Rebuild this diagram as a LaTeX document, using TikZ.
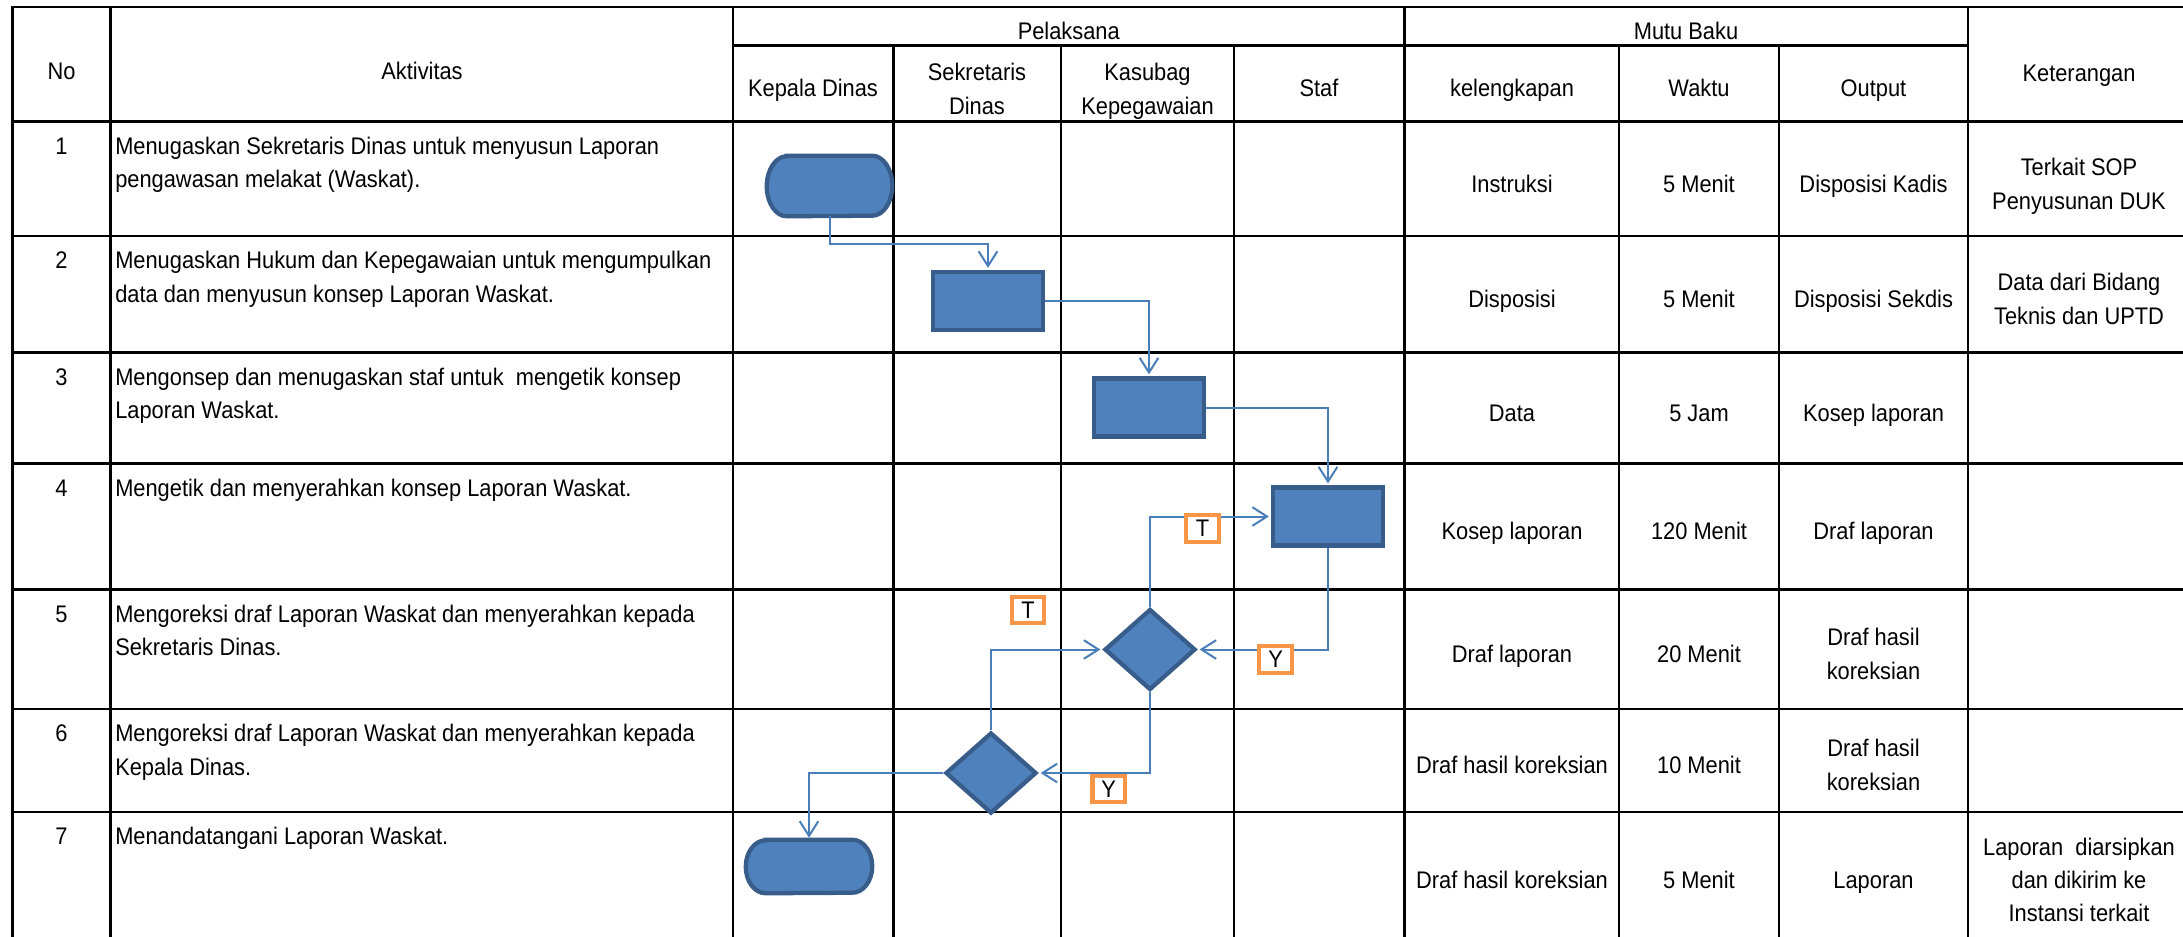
\documentclass[tikz,border=0pt]{standalone}
\usepackage{fontspec}
\setmainfont[FakeStretch=0.91]{Liberation Sans}
\usetikzlibrary{arrows.meta,shapes.geometric}
\definecolor{fillblue}{HTML}{4F81BD}
\definecolor{edgeblue}{HTML}{385D8A}
\definecolor{connblue}{HTML}{4A7EBB}
\definecolor{lblorange}{HTML}{F79646}
\newcommand\mystrut{\rule[-5.1pt]{0pt}{23.1pt}}
\newcommand\termshape[3]{%
  \path[termfill] ([xshift=#2]#1.north west) -- ([xshift=-#2]#1.north east)
    arc[start angle=90,end angle=-90,x radius=#2,y radius=#3]
    -- ([xshift=#2]#1.south west)
    arc[start angle=270,end angle=90,x radius=#2,y radius=#3] -- cycle;}
\begin{document}
\begin{tikzpicture}[x=0.75pt,y=-0.75pt,
  grid/.style={line width=1.6pt,black,line cap=rect},
  txt/.style={inner sep=0pt,font=\fontsize{18pt}{25pt}\selectfont,align=center},
  numtxt/.style={inner sep=0pt,font=\fontsize{18pt}{25pt}\selectfont,align=center,anchor=north},
  lefttxt/.style={inner sep=0pt,font=\fontsize{18pt}{25pt}\selectfont,align=left,anchor=north west},
  procbox/.style={rectangle,draw=edgeblue,fill=fillblue,line width=3.2pt,minimum width=82.5pt,minimum height=43.5pt,inner sep=0pt},
  decision/.style={diamond,draw=edgeblue,fill=fillblue,line width=3.2pt,minimum width=68.25pt,minimum height=60.75pt,inner sep=0pt},
  termnode/.style={rectangle,inner sep=0pt},
  termfill/.style={draw=edgeblue,fill=fillblue,line width=3.2pt},
  conn/.style={draw=connblue,line width=1.5pt,shorten >=1.5pt,-{Straight Barb[length=11pt,width=14pt]}},
  tag/.style={rectangle,draw=lblorange,fill=white,line width=3.2pt,minimum width=24.5pt,minimum height=20pt,inner sep=0pt,font=\fontsize{18pt}{25pt}\selectfont}
]
\useasboundingbox (0,0) rectangle (2183,936);

% grid
\draw[grid] (12.5,7) -- (2183,7);
\draw[grid] (733,45.5) -- (1968,45.5);
\foreach \y in {121.5,236,352.5,463.5,589.5,709,812} \draw[grid] (12.5,\y) -- (2183,\y);
\foreach \x in {12.5,110.5,733,1404.5,1968} \draw[grid] (\x,7) -- (\x,936);
\foreach \x in {893.5,1061,1234,1619,1779} \draw[grid] (\x,45.5) -- (\x,936);

% header
\node[txt] (hNo) at (61.5,71) {\mystrut No};
\node[txt] (hAkt) at (422,71) {\mystrut Aktivitas};
\node[txt] (hPel) at (1068.75,31) {\mystrut Pelaksana};
\node[txt] (hMutu) at (1686,31) {\mystrut Mutu Baku};
\node[txt] (hKet) at (2079,73) {\mystrut Keterangan};
\node[txt] (hKD) at (813,88) {\mystrut Kepala Dinas};
\node[txt] (hSD) at (977,89) {\mystrut Sekretaris\\\mystrut Dinas};
\node[txt] (hKK) at (1147.5,89) {\mystrut Kasubag\\\mystrut Kepegawaian};
\node[txt] (hStaf) at (1319,88) {\mystrut Staf};
\node[txt] (hKel) at (1512,88) {\mystrut kelengkapan};
\node[txt] (hWak) at (1699,88) {\mystrut Waktu};
\node[txt] (hOut) at (1873.5,88) {\mystrut Output};

% numbers
\node[numtxt] (n1) at (61.5,130) {\mystrut 1};
\node[numtxt] (n2) at (61.5,244.6) {\mystrut 2};
\node[numtxt] (n3) at (61.5,361) {\mystrut 3};
\node[numtxt] (n4) at (61.5,472) {\mystrut 4};
\node[numtxt] (n5) at (61.5,598) {\mystrut 5};
\node[numtxt] (n6) at (61.5,717.6) {\mystrut 6};
\node[numtxt] (n7) at (61.5,820.6) {\mystrut 7};

% activities
\node[lefttxt] (a1) at (115,130) {\mystrut Menugaskan Sekretaris Dinas untuk menyusun Laporan\\\mystrut pengawasan melakat (Waskat).};
\node[lefttxt] (a2) at (115,244.6) {\mystrut Menugaskan Hukum dan Kepegawaian untuk mengumpulkan\\\mystrut data dan menyusun konsep Laporan Waskat.};
\node[lefttxt] (a3) at (115,361) {\mystrut Mengonsep dan menugaskan staf untuk~ mengetik konsep\\\mystrut Laporan Waskat.};
\node[lefttxt] (a4) at (115,472) {\mystrut Mengetik dan menyerahkan konsep Laporan Waskat.};
\node[lefttxt] (a5) at (115,598) {\mystrut Mengoreksi draf Laporan Waskat dan menyerahkan kepada\\\mystrut Sekretaris Dinas.};
\node[lefttxt] (a6) at (115,717.6) {\mystrut Mengoreksi draf Laporan Waskat dan menyerahkan kepada\\\mystrut Kepala Dinas.};
\node[lefttxt] (a7) at (115,820.6) {\mystrut Menandatangani Laporan Waskat.};

% mutu baku
\node[txt] (k1) at (1512,184) {\mystrut Instruksi};
\node[txt] (w1) at (1699,184) {\mystrut 5 Menit};
\node[txt] (o1) at (1873.5,184) {\mystrut Disposisi Kadis};
\node[txt] (e1) at (2079,184) {\mystrut Terkait SOP\\\mystrut Penyusunan DUK};

\node[txt] (k2) at (1512,299) {\mystrut Disposisi};
\node[txt] (w2) at (1699,299) {\mystrut 5 Menit};
\node[txt] (o2) at (1873.5,299) {\mystrut Disposisi Sekdis};
\node[txt] (e2) at (2079,299) {\mystrut Data dari Bidang\\\mystrut Teknis dan UPTD};

\node[txt] (k3) at (1512,413) {\mystrut Data};
\node[txt] (w3) at (1699,413) {\mystrut 5 Jam};
\node[txt] (o3) at (1873.5,413) {\mystrut Kosep laporan};

\node[txt] (k4) at (1512,531) {\mystrut Kosep laporan};
\node[txt] (w4) at (1699,531) {\mystrut 120 Menit};
\node[txt] (o4) at (1873.5,531) {\mystrut Draf laporan};

\node[txt] (k5) at (1512,654) {\mystrut Draf laporan};
\node[txt] (w5) at (1699,654) {\mystrut 20 Menit};
\node[txt] (o5) at (1873.5,654) {\mystrut Draf hasil\\\mystrut koreksian};

\node[txt] (k6) at (1512,765) {\mystrut Draf hasil koreksian};
\node[txt] (w6) at (1699,765) {\mystrut 10 Menit};
\node[txt] (o6) at (1873.5,765) {\mystrut Draf hasil\\\mystrut koreksian};

\node[txt] (k7) at (1512,880) {\mystrut Draf hasil koreksian};
\node[txt] (w7) at (1699,880) {\mystrut 5 Menit};
\node[txt] (o7) at (1873.5,880) {\mystrut Laporan};
\node[txt] (e7) at (2079,880) {\mystrut Laporan~ diarsipkan\\\mystrut dan dikirim ke\\\mystrut Instansi terkait};

% flow shapes
\node[termnode,minimum width=93.75pt,minimum height=45pt] (t1) at (829.5,186) {};
\termshape{t1}{15pt}{22.5pt}
\node[procbox] (b2) at (988,301) {};
\node[procbox] (b3) at (1149,407.5) {};
\node[procbox] (b4) at (1328,516.5) {};
\node[decision] (d1) at (1150,649.5) {};
\node[decision] (d2) at (991,773) {};
\node[termnode,minimum width=94.5pt,minimum height=39.75pt] (t2) at (809,866.5) {};
\termshape{t2}{15pt}{19.875pt}

% connectors
\draw[conn] (t1.south) -- (t1.south |- 0,244) -| (b2.north);
\draw[conn] (b2.east) -| (b3.north);
\draw[conn] (b3.east) -| (b4.north);
\draw[conn] (d1.north) |- (b4.west);
\draw[conn] (b4.south) |- (d1.east);
\draw[conn] (d1.south) |- (d2.east);
\draw[conn] (d2.north) |- (d1.west);
\draw[conn] (d2.west) -| (t2.north);

% labels
\node[tag] (lT1) at (1202.5,528.5) {T};
\node[tag] (lT2) at (1028,610) {T};
\node[tag] (lY1) at (1275.6,659.5) {Y};
\node[tag] (lY2) at (1108.7,789) {Y};
\end{tikzpicture}
\end{document}
